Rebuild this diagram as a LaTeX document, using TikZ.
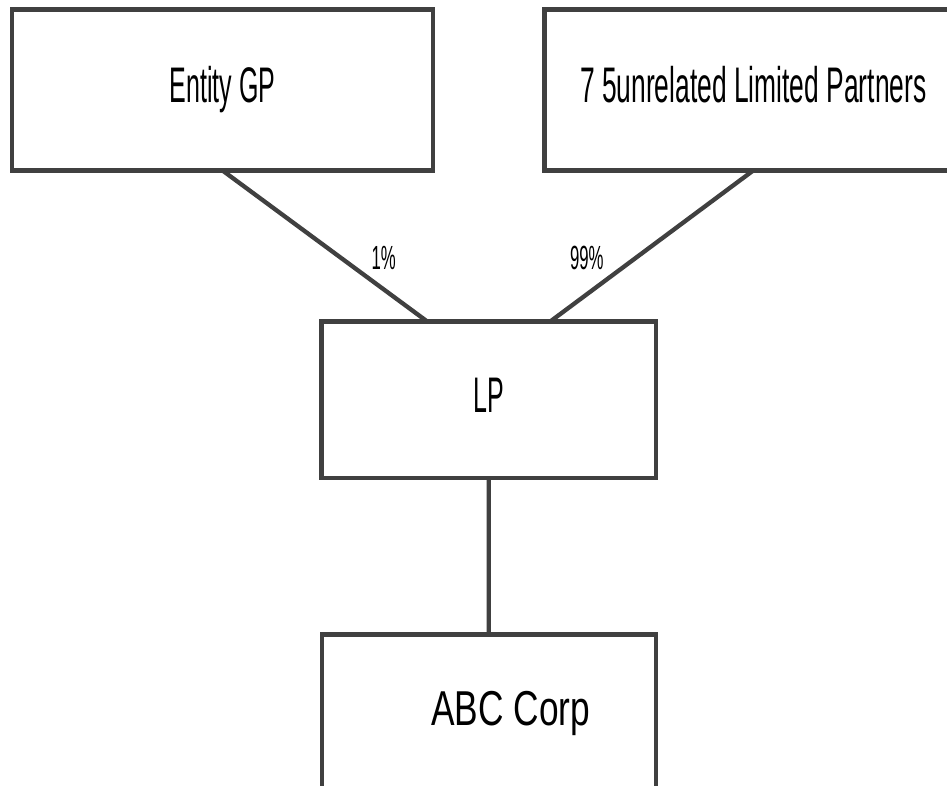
\documentclass[tikz,border=0pt]{standalone}
\usepackage{fontspec}
\setmainfont{Liberation Sans}
\newfontfamily\narrowfont[FakeStretch=0.5]{Liberation Sans}
\newfontfamily\widerfont[FakeStretch=0.528]{Liberation Sans}
\newfontfamily\midfont[FakeStretch=0.72]{Liberation Sans}
\definecolor{edgegray}{HTML}{404040}
\begin{document}
\begin{tikzpicture}[x=1pt,y=-1pt,
  entity/.style={draw=edgegray, line width=4.3pt, fill=white, inner sep=0pt, outer sep=0pt,
    text height=36pt, text depth=11pt, align=center, font=\narrowfont\fontsize{50}{60}\selectfont},
  link/.style={draw=edgegray, line width=4.3pt},
  share/.style={font=\narrowfont\fontsize{33.5}{40}\selectfont, inner sep=0pt}]
  \useasboundingbox (0,0) rectangle (947,786);
  \clip (0,0) rectangle (947,786);
  \fill[white] (0,0) rectangle (947,786);

  % owners
  \node[entity, minimum width=421pt, minimum height=161pt] (gp) at (222.5,90) {Entity GP};
  \node[entity, minimum width=417.5pt, minimum height=161pt, font=\widerfont\fontsize{50}{60}\selectfont] (lps) at (753.25,90) {7 5unrelated Limited Partners};

  % partnership and its subsidiary
  \node[entity, minimum width=334.5pt, minimum height=156.5pt] (lp) at (488.75,399.75) {LP};
  \node[entity, minimum width=334pt, minimum height=156.5pt, font=\midfont\fontsize{49}{60}\selectfont] (abc) at (488.7,712.75) {\hspace*{44pt}ABC Corp};

  % ownership links
  \draw[link] (gp.south) -- node[share, pos=0.787, yshift=31pt] {1\%} ([xshift=-61.5pt]lp.north);
  \draw[link] (lps.south) -- node[share, pos=0.82, yshift=36pt] {99\%} ([xshift=61.5pt]lp.north);
  \draw[link] (lp.south) -- (abc.north);
\end{tikzpicture}
\end{document}
